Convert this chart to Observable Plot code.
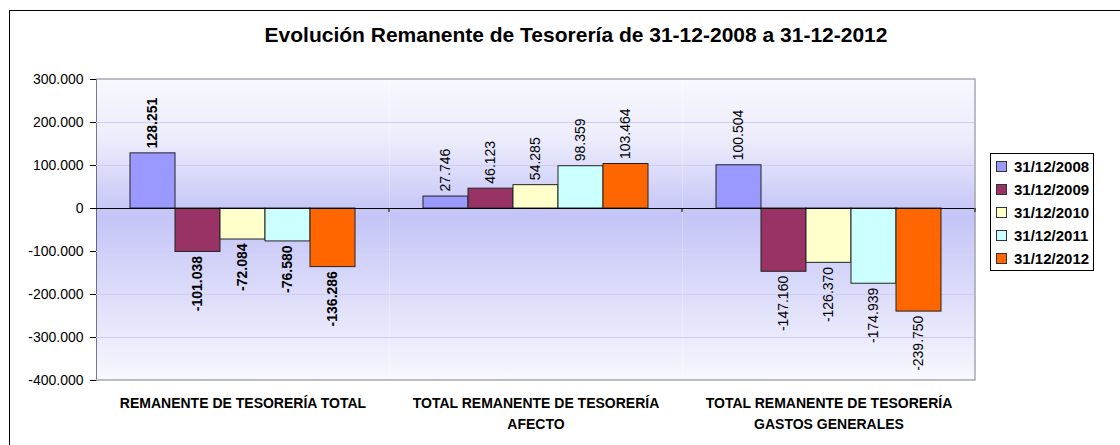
<!DOCTYPE html>
<html>
<head>
<meta charset="utf-8">
<script src="https://cdn.jsdelivr.net/npm/d3@7"></script>
<script src="https://cdn.jsdelivr.net/npm/@observablehq/plot@0.6"></script>
<style>
html, body { margin: 0; padding: 0; background: #fff; width: 1120px; height: 445px; overflow: hidden; }
#wrap { position: relative; width: 1120px; height: 445px; font-family: Arial, "Liberation Sans", sans-serif; color: #000; }
#wrap svg { position: absolute; left: 0; top: 0; }
#border { position: absolute; left: 9px; top: 10px; width: 1300px; height: 700px; border: 1px solid #000; pointer-events: none; }
#title { position: absolute; left: 0; top: 23px; width: 1152px; text-align: center; font-weight: bold; font-size: 21px; line-height: 24px; white-space: nowrap; }
#legend { position: absolute; left: 990px; top: 153px; width: 104px; height: 118px; border: 1px solid #000; background: #fff; box-sizing: border-box; padding-top: 1px; }
#legend .row { height: 23px; display: flex; align-items: center; font-weight: bold; font-size: 15px; }
#legend .sw { width: 9px; height: 9px; border: 1px solid #333; margin-left: 5px; margin-right: 7px; flex: none; }
</style>
</head>
<body>
<div id="wrap">
  <div id="border"></div>
  <div id="title">Evolución Remanente de Tesorería de 31-12-2008 a 31-12-2012</div>
  <div id="legend"></div>
</div>
<script>
// ---- data ----
const groups = [
  "REMANENTE DE TESORERÍA TOTAL",
  "TOTAL REMANENTE DE TESORERÍA\nAFECTO",
  "TOTAL REMANENTE DE TESORERÍA\nGASTOS GENERALES"
];
const series = ["31/12/2008", "31/12/2009", "31/12/2010", "31/12/2011", "31/12/2012"];
const seriesColors = ["#9999FF", "#993366", "#FFFFCC", "#CCFFFF", "#FF6600"];
const totalValues  = [128251, -101038, -72084, -76580, -136286];
const afectoValues = [27746, 46123, 54285, 98359, 103464];
const gastosValues = [100504, -147160, -126370, -174939, -239750];
const yTicks = [-400000, -300000, -200000, -100000, 0, 100000, 200000, 300000];

(function () {
const groupValues = [totalValues, afectoValues, gastosValues];
const data = [];
groups.forEach((g, gi) => series.forEach((s, si) => data.push({group: g, gi, series: s, value: groupValues[gi][si]})));

const locale = d3.formatLocale({decimal: ",", thousands: ".", grouping: [3], currency: ["", " €"], minus: "-"});
const fmt = locale.format(",d");

function hasFont(name) {
  const c = document.createElement("canvas").getContext("2d");
  const s = "REMANENTE DE TESORERÍA";
  c.font = "bold 20px monospace";
  const a = c.measureText(s).width;
  c.font = `bold 20px "${name}", monospace`;
  return c.measureText(s).width !== a;
}
const narrow = hasFont("Liberation Sans Narrow") ? "Liberation Sans Narrow" : (hasFont("Arial Narrow") ? "Arial Narrow" : null);
const catFont = narrow ? `"${narrow}", Arial, sans-serif` : `Arial, "Liberation Sans", sans-serif`;
const catSize = narrow ? 16.5 : 14;

const defs = () => {
  const ns = "http://www.w3.org/2000/svg";
  const d = document.createElementNS(ns, "defs");
  const lg = document.createElementNS(ns, "linearGradient");
  lg.setAttribute("id", "bgGrad");
  lg.setAttribute("x1", "0"); lg.setAttribute("y1", "0");
  lg.setAttribute("x2", "0"); lg.setAttribute("y2", "1");
  [[0, "#f8f8fe"], [0.2, "#ececfc"], [0.45, "#c4c4f7"], [0.75, "#e0e0fb"], [1, "#f8f8fe"]].forEach(([o, c]) => {
    const st = document.createElementNS(ns, "stop");
    st.setAttribute("offset", o);
    st.setAttribute("stop-color", c);
    lg.appendChild(st);
  });
  d.appendChild(lg);
  return d;
};

const labelMark = (rows, positive, bold) => Plot.text(rows, {
  fx: "group", x: "series", y: "value",
  text: d => fmt(d.value),
  rotate: -90,
  textAnchor: positive ? "start" : "end",
  dy: positive ? -5 : 4,
  fontWeight: bold ? "bold" : "normal",
  fontSize: 14,
  fill: "#000"
});

const plot = Plot.plot({
  width: 1120,
  height: 445,
  marginLeft: 95,
  marginRight: 145,
  marginTop: 79,
  marginBottom: 65,
  style: {fontFamily: 'Arial, "Liberation Sans", sans-serif', fontSize: "14px", color: "#000", background: "transparent", overflow: "visible"},
  fx: {domain: groups, padding: 0, axis: null},
  x: {domain: series, paddingInner: 0, paddingOuter: 0.74, axis: null},
  y: {domain: [-400000, 300000], ticks: yTicks, tickFormat: fmt, tickSize: 6, tickPadding: 7, label: null, line: true},
  color: {domain: series, range: seriesColors},
  marks: [
    defs,
    Plot.frame({fill: "url(#bgGrad)"}),
    Plot.ruleY(yTicks.filter(v => v !== 0 && v !== 300000 && v !== -400000), {stroke: "#cdcdf5", strokeWidth: 1}),
    Plot.barY(data, {fx: "group", x: "series", y: "value", fill: "series", stroke: "#222", strokeWidth: 1}),
    Plot.ruleY([0], {stroke: "#000", strokeWidth: 1.2}),
    labelMark(data.filter(d => d.value >= 0 && d.gi === 0), true, true),
    labelMark(data.filter(d => d.value < 0 && d.gi === 0), false, true),
    labelMark(data.filter(d => d.value >= 0 && d.gi !== 0), true, false),
    labelMark(data.filter(d => d.value < 0 && d.gi !== 0), false, false),
    Plot.text(groups, {
      fx: d => d, text: d => d,
      frameAnchor: "bottom", lineAnchor: "top", dy: 13, lineHeight: 1.5,
      fontWeight: "bold", fontSize: catSize, fontFamily: catFont, fill: "#000"
    })
  ]
});

const ns = "http://www.w3.org/2000/svg";
const fxS = plot.scale("fx"), yS = plot.scale("y");
const x0 = fxS.apply(groups[0]);
const x1 = fxS.apply(groups[groups.length - 1]) + fxS.bandwidth;
const yTop = yS.apply(300000), yBottom = yS.apply(-400000), yZero = yS.apply(0);
const framePath = document.createElementNS(ns, "path");
framePath.setAttribute("d", `M${x0},${yTop}H${x1}V${yBottom}H${x0}`);
framePath.setAttribute("fill", "none");
framePath.setAttribute("stroke", "#a8a8b0");
framePath.setAttribute("stroke-width", "1.5");
plot.appendChild(framePath);
const tk = document.createElementNS(ns, "path");
let dpath = "";
groups.slice(1).forEach(g => { const x = fxS.apply(g); dpath += `M${x},${yZero}V${yZero + 4}`; });
dpath += `M${x1},${yZero}V${yZero + 4}`;
tk.setAttribute("d", dpath);
tk.setAttribute("stroke", "#000");
plot.appendChild(tk);

document.getElementById("wrap").insertBefore(plot, document.getElementById("border"));

const legend = document.getElementById("legend");
series.forEach((s, i) => {
  const row = document.createElement("div");
  row.className = "row";
  const sw = document.createElement("span");
  sw.className = "sw";
  sw.style.background = seriesColors[i];
  const t = document.createElement("span");
  t.textContent = s;
  row.appendChild(sw); row.appendChild(t);
  legend.appendChild(row);
});
})();
</script>
</body>
</html>
